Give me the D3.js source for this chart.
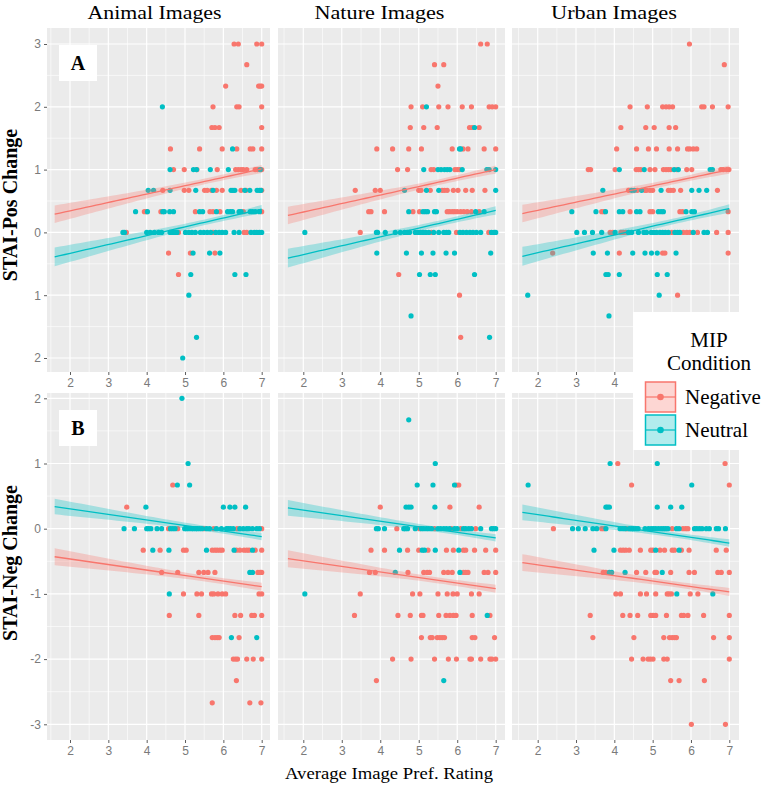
<!DOCTYPE html>
<html><head><meta charset="utf-8">
<script src="https://cdn.jsdelivr.net/npm/d3@7"></script>
<style>body{margin:0;background:#fff}</style>
</head><body><svg id="c" width="764" height="788"></svg>
<script>
// ---------------- DATA ----------------
const facets = ["Animal Images", "Nature Images", "Urban Images"];
const measures = ["STAI-Pos Change", "STAI-Neg Change"];
const panelTags = ["A", "B"];
const conditions = ["Negative", "Neutral"];
const xTicks = [2, 3, 4, 5, 6, 7];
const yTicksPos = [3, 2, 1, 0, -1, -2];
const yTickLabelsPos = ["3", "2", "1", "0", "1", "2"];
const yTicksNeg = [2, 1, 0, -1, -2, -3];
const yTickLabelsNeg = ["2", "1", "0", "-1", "-2", "-3"];
const xTitle = "Average Image Pref. Rating";
const legendTitle = ["MIP", "Condition"];

// rows: [y value, [x values]]
const animalPosNegative = [
  [3, [6.28, 6.39, 6.87, 7.0]], [2.67, [6.61]], [2.33, [6.06, 6.92, 6.96, 7.0]],
  [2, [5.73, 6.35, 6.41, 7.0]], [1.67, [5.70, 5.78, 5.89, 7.0]],
  [1.33, [4.62, 5.38, 5.97, 6.35, 6.70, 6.77, 7.0]],
  [1, [4.70, 4.98, 5.31, 5.84, 6.32, 6.39, 6.46, 6.52, 6.61, 6.83, 6.89, 7.0]],
  [0.67, [4.42, 4.98, 5.10, 5.51, 5.58, 5.69, 5.82, 5.97, 6.46, 6.59, 7.0]],
  [0.33, [3.94, 4.0, 4.37, 5.27, 5.65, 5.73, 5.91, 6.52, 7.0]],
  [0, [3.47, 4.83, 5.73, 6.54, 6.61]], [-0.33, [4.57, 5.14, 5.78]], [-0.67, [4.83]]
];
const animalPosNeutral = [
  [2, [4.41]], [1.33, [6.24]], [1, [4.61, 5.22, 5.30, 5.66, 6.13, 6.96]],
  [0.67, [4.04, 4.18, 4.61, 5.28, 5.73, 6.20, 6.25, 6.30, 6.56, 6.69, 6.88, 6.94, 6.98]],
  [0.33, [3.71, 4.02, 4.42, 4.46, 4.60, 4.70, 5.38, 5.46, 5.82, 6.11, 6.18, 6.24, 6.41, 6.46, 6.70, 6.76, 6.83, 6.94]],
  [0, [3.38, 3.42, 4.0, 4.09, 4.2, 4.31, 4.39, 4.61, 4.66, 4.70, 4.75, 4.79, 5.01, 5.10, 5.18, 5.27, 5.40, 5.49, 5.58, 5.67, 5.80, 5.89, 5.97, 6.06, 6.28, 6.41, 6.72, 6.81, 6.87, 6.94, 7.0]],
  [-0.33, [5.21, 5.64, 5.91]], [-0.67, [5.15, 6.30, 6.59]], [-1, [5.10]], [-1.67, [5.30]], [-2, [4.94]]
];
const naturePosNegative = [
  [3, [6.61, 6.78]], [2.67, [5.41, 5.65]], [2.33, [5.50]],
  [2, [4.80, 5.10, 5.52, 5.76, 6.13, 6.37, 6.83, 6.91, 7.0]],
  [1.67, [4.78, 5.13, 5.48, 6.32, 6.39, 6.57]],
  [1.33, [3.91, 4.32, 4.74, 5.07, 5.87, 6.15, 6.28, 6.70, 7.0]],
  [1, [4.45, 4.71, 5.32, 5.39, 5.94, 6.0, 6.06]],
  [0.67, [3.35, 3.87, 4.0, 5.0, 5.06, 5.30, 5.61, 5.67, 5.74, 5.90, 6.02, 6.22, 6.39, 6.72]],
  [0.33, [3.70, 3.76, 4.11, 4.85, 5.02, 5.74, 5.80, 5.87, 5.93, 6.0, 6.09, 6.17, 6.26, 6.37, 6.57]],
  [0, [3.48, 5.33, 5.98, 6.82]], [-0.67, [4.48]], [-1, [6.06]], [-1.67, [6.09]]
];
const naturePosNeutral = [
  [2, [5.20]], [1.67, [6.45]], [1.33, [6.06, 6.09]],
  [1, [5.13, 5.50, 5.58, 5.67, 5.74, 5.81, 6.13, 6.77, 6.83, 7.0]],
  [0.67, [4.63, 5.20, 5.52, 7.0]],
  [0.33, [4.74, 5.11, 5.17, 5.23, 5.41, 5.46, 6.48, 6.70]],
  [0, [2.04, 3.90, 3.93, 4.13, 4.39, 4.52, 4.63, 4.70, 4.76, 4.91, 4.98, 5.04, 5.11, 5.18, 5.26, 5.39, 5.52, 5.65, 5.72, 5.78, 6.07, 6.15, 6.24, 6.33, 6.41, 6.50, 6.61, 6.89, 6.96, 7.0]],
  [-0.33, [3.91, 4.68, 5.07, 5.37, 5.71, 5.93, 6.87]],
  [-0.67, [5.02, 5.30, 5.43, 6.45]], [-1.33, [4.80]], [-1.67, [6.84]]
];
const urbanPosNegative = [
  [3, [5.96]], [2.67, [6.87]],
  [2, [4.41, 4.86, 5.26, 5.35, 5.43, 5.52, 6.28, 6.34, 6.56, 6.97]],
  [1.67, [4.17, 4.82, 5.04, 5.43, 5.60]],
  [1.33, [4.06, 4.58, 4.89, 5.10, 5.43, 5.65, 5.91, 5.97, 6.06, 6.15]],
  [1, [3.32, 3.38, 4.02, 4.57, 4.63, 4.69, 4.93, 5.06, 5.28, 5.35, 5.41, 5.47, 5.63, 5.89, 6.02, 6.78, 6.84, 6.93, 6.99]],
  [0.67, [4.37, 4.60, 4.80, 4.84, 4.93, 5.0, 5.41, 5.47, 5.54, 5.73, 6.69]],
  [0.33, [3.67, 3.73, 4.41, 4.93, 5.0, 5.71, 5.78, 6.97]],
  [0, [3.89, 3.96, 4.17, 4.23, 4.30, 5.50, 5.80, 5.89, 5.97, 6.17, 6.67, 6.97]],
  [-0.33, [2.39, 4.13, 5.26, 5.32, 6.97]], [-1, [5.65]]
];
const urbanPosNeutral = [
  [1, [4.13, 4.78, 5.56, 5.67, 6.50, 6.56]],
  [0.67, [3.70, 4.45, 4.52, 4.71, 5.22, 6.02, 6.21, 6.41]],
  [0.33, [2.89, 3.52, 3.77, 4.13, 4.22, 4.58, 4.67, 5.15, 5.22, 5.28, 5.87, 6.02, 6.09]],
  [0, [3.02, 3.22, 3.43, 3.67, 4.02, 4.37, 4.45, 4.63, 4.77, 4.84, 4.96, 5.03, 5.10, 5.19, 5.26, 5.33, 5.41, 5.58, 5.65, 5.71, 6.06, 6.34, 6.43]],
  [-0.33, [3.45, 3.82, 4.48, 4.80, 4.97, 5.12, 5.61]],
  [-0.67, [3.78, 3.84, 4.13, 5.12, 5.38]], [-1, [1.74, 5.17]], [-1.33, [3.86]]
];
const animalNegNegative = [
  [0.67, [4.68]], [0.33, [3.48]], [0, [4.57, 4.81, 5.49, 5.75, 6.36, 7.0]],
  [-0.33, [3.91, 4.35, 4.96, 5.03, 5.71, 5.78, 5.84, 5.91, 5.97, 6.34, 6.43, 6.54, 6.61, 6.67, 6.83, 7.0]],
  [-0.67, [4.39, 4.81, 5.36, 5.49, 5.60, 5.78, 6.90, 6.96, 7.0]],
  [-1, [4.96, 5.31, 5.43, 5.69, 5.75, 5.86, 5.97, 6.06, 6.93, 7.0]],
  [-1.33, [4.59, 5.36, 6.30, 6.45, 6.74, 6.81, 7.0]],
  [-1.67, [5.71, 5.78, 5.84, 5.89, 6.41]],
  [-2, [6.26, 6.32, 6.37, 6.61, 6.78, 7.0]], [-2.33, [6.34]], [-2.67, [5.71, 6.69, 6.98]]
];
const animalNegNeutral = [
  [2, [4.92]], [1, [5.08]], [0.67, [4.80, 5.12]],
  [0.33, [3.98, 6.0, 6.17, 6.30, 6.58]],
  [0, [3.41, 3.68, 4.0, 4.05, 4.11, 4.27, 4.39, 4.62, 4.68, 4.74, 4.99, 5.04, 5.10, 5.17, 5.22, 5.28, 5.32, 5.38, 5.44, 5.56, 5.64, 5.82, 5.95, 6.08, 6.13, 6.19, 6.26, 6.43, 6.52, 6.61, 6.67, 6.76, 6.87, 6.94]],
  [-0.33, [4.16, 4.58, 5.56, 6.28, 6.76]], [-0.67, [6.69, 6.76]], [-1, [4.59]], [-1.67, [6.21, 6.87]]
];
const natureNegNegative = [
  [0.67, [5.98, 6.04]], [0.33, [4.0, 5.81, 6.57]],
  [0, [4.43, 5.02, 5.41, 5.85, 6.09, 6.48]],
  [-0.33, [3.76, 4.11, 4.71, 5.0, 5.24, 5.72, 5.90, 6.16, 6.22, 6.45, 6.74, 7.0]],
  [-0.67, [3.72, 3.87, 4.72, 5.13, 5.22, 5.28, 5.65, 5.76, 5.87, 6.16, 6.22, 6.28, 6.70, 6.80, 7.0]],
  [-1, [3.48, 4.84, 5.03, 5.50, 5.74, 5.89, 6.0, 6.37, 6.57]],
  [-1.33, [3.33, 4.46, 4.78, 5.07, 5.11, 5.52, 5.71, 5.81, 5.90, 5.97, 6.39, 6.85]],
  [-1.67, [5.07, 5.30, 5.35, 5.48, 5.55, 5.61, 5.67, 6.39, 6.46, 6.97]],
  [-2, [4.32, 4.80, 5.41, 5.77, 5.98, 6.33, 6.37, 6.61, 6.85, 6.90, 7.0]], [-2.33, [3.90]]
];
const natureNegNeutral = [
  [1.67, [4.74]], [1, [5.43]], [0.67, [4.96, 5.37, 5.93]],
  [0.33, [4.67, 4.74, 4.80, 5.42]],
  [0, [3.90, 3.95, 4.11, 4.61, 4.65, 4.71, 4.91, 5.07, 5.13, 5.20, 5.26, 5.33, 5.50, 5.57, 5.65, 5.72, 5.80, 5.93, 6.0, 6.16, 6.22, 6.30, 6.37, 6.61, 6.89, 6.94, 7.0]],
  [-0.33, [4.50, 5.09, 5.15, 5.43, 6.04]], [-0.67, [4.39, 6.07]], [-1, [2.04]], [-1.33, [6.78]], [-2.33, [5.65]]
];
const urbanNegNegative = [
  [1, [4.09, 6.89]], [0.67, [4.45, 7.0]],
  [0, [2.41, 3.67, 3.73, 4.32, 5.51, 5.79, 5.86, 5.92]],
  [-0.33, [4.16, 4.23, 4.30, 4.39, 4.68, 4.95, 5.01, 5.19, 5.31, 5.51, 5.57, 5.75, 5.95, 6.66, 6.92]],
  [-0.67, [3.71, 3.78, 4.58, 4.82, 5.06, 5.10, 5.47, 5.95, 6.09, 6.70, 6.79, 7.0]],
  [-1, [4.04, 4.16, 4.68, 4.84, 5.08, 5.38, 5.43, 5.49, 5.98, 6.18]],
  [-1.33, [3.37, 4.22, 4.41, 4.61, 4.95, 5.01, 5.08, 5.36, 5.75, 5.81, 5.92, 6.33, 7.0]],
  [-1.67, [3.44, 4.51, 5.29, 5.44, 5.51, 5.57, 5.62, 6.59, 7.0]],
  [-2, [4.45, 4.75, 4.88, 4.94, 5.01, 5.29, 5.38, 7.0]],
  [-2.33, [5.47, 5.69, 6.35]], [-3, [6.01, 6.90]]
];
const urbanNegNeutral = [
  [1, [3.89, 5.12]], [0.67, [1.75, 6.02]], [0.33, [3.78, 3.82, 3.87, 5.12, 5.47, 5.76]],
  [0, [2.91, 3.06, 3.24, 3.44, 3.54, 3.78, 4.15, 4.22, 4.28, 4.39, 4.45, 4.50, 4.56, 4.62, 4.80, 4.89, 4.96, 5.02, 5.08, 5.15, 5.22, 5.28, 5.34, 5.40, 5.62, 5.69, 6.09, 6.15, 6.22, 6.29, 6.40, 6.48, 6.66, 6.72, 6.90]],
  [-0.33, [3.47, 3.99, 5.08, 5.69]], [-0.67, [3.87, 3.93, 4.28, 5.25]], [-1, [5.63, 6.57]]
];

// fitted lines: [y at x start, y at x end, CI half-width at start, minimum CI half-width]
const fitXRange = [1.6, 7.0];
const fitPosNegative = [[0.29, 1.01, 0.14, 0.045], [0.27, 1.00, 0.14, 0.045], [0.30, 1.00, 0.14, 0.045]];
const fitPosNeutral  = [[-0.39, 0.37, 0.15, 0.045], [-0.41, 0.35, 0.15, 0.045], [-0.38, 0.38, 0.15, 0.045]];
const fitNegNegative = [[-0.43, -0.89, 0.13, 0.045], [-0.46, -0.92, 0.13, 0.045], [-0.52, -0.97, 0.13, 0.045]];
const fitNegNeutral  = [[0.34, -0.12, 0.12, 0.04], [0.32, -0.14, 0.12, 0.04], [0.25, -0.22, 0.12, 0.04]];

// ---------------- LAYOUT ----------------
const colors = {Negative: "#F8766D", Neutral: "#00BFC4"};
const cols = [
  {left: 47, right: 270, x2: 70, x7: 261.7},
  {left: 278, right: 505, x2: 303.3, x7: 495.7},
  {left: 512, right: 739, x2: 537.7, x7: 729.3}
];
const rows = [
  {top: 28, bottom: 372, yA: 3, pA: 44, yB: -2, pB: 358, ticks: yTicksPos, labels: yTickLabelsPos},
  {top: 393, bottom: 740, yA: 2, pA: 398.3, yB: -3, pB: 724.3, ticks: yTicksNeg, labels: yTickLabelsNeg}
];
const legendBox = {x: 633, y: 312, w: 131, h: 138};
const series = [
  [[animalPosNegative, animalPosNeutral], [naturePosNegative, naturePosNeutral], [urbanPosNegative, urbanPosNeutral]],
  [[animalNegNegative, animalNegNeutral], [natureNegNegative, natureNegNeutral], [urbanNegNegative, urbanNegNeutral]]
];
const fits = [[fitPosNegative, fitPosNeutral], [fitNegNegative, fitNegNeutral]];

const svg = d3.select("#c");
const tickFont = "'Liberation Sans', Arial, sans-serif";
const serif = "'Liberation Serif', 'Times New Roman', serif";

rows.forEach((r, ri) => {
  cols.forEach((c, ci) => {
    const x = d3.scaleLinear().domain([2, 7]).range([c.x2, c.x7]);
    const y = d3.scaleLinear().domain([r.yB, r.yA]).range([r.pB, r.pA]);
    const g = svg.append("g");
    const clipId = `clip${ri}${ci}`;
    g.append("clipPath").attr("id", clipId).append("rect")
      .attr("x", c.left).attr("y", r.top).attr("width", c.right - c.left).attr("height", r.bottom - r.top);
    g.append("rect").attr("x", c.left).attr("y", r.top).attr("width", c.right - c.left)
      .attr("height", r.bottom - r.top).attr("fill", "#EBEBEB");
    const xd = [x.invert(c.left), x.invert(c.right)];
    const yd = [y.invert(r.bottom), y.invert(r.top)];
    const minorX = d3.range(1.5, 8, 1).filter(v => v > xd[0] && v < xd[1]);
    const minorY = d3.range(-3.5, 4, 1).filter(v => v > yd[0] && v < yd[1]);
    g.selectAll(null).data(minorX).join("line").attr("x1", d => x(d)).attr("x2", d => x(d))
      .attr("y1", r.top).attr("y2", r.bottom).attr("stroke", "#fff").attr("stroke-width", 0.6);
    g.selectAll(null).data(minorY).join("line").attr("y1", d => y(d)).attr("y2", d => y(d))
      .attr("x1", c.left).attr("x2", c.right).attr("stroke", "#fff").attr("stroke-width", 0.6);
    g.selectAll(null).data(xTicks).join("line").attr("x1", d => x(d)).attr("x2", d => x(d))
      .attr("y1", r.top).attr("y2", r.bottom).attr("stroke", "#fff").attr("stroke-width", 1.2);
    g.selectAll(null).data(r.ticks).join("line").attr("y1", d => y(d)).attr("y2", d => y(d))
      .attr("x1", c.left).attr("x2", c.right).attr("stroke", "#fff").attr("stroke-width", 1.2);

    const inner = g.append("g").attr("clip-path", `url(#${clipId})`);
    // points
    conditions.forEach((cond, k) => {
      const pts = series[ri][ci][k].flatMap(([yv, xs]) => xs.map(xv => [xv, yv]));
      inner.selectAll(null).data(pts).join("circle")
        .attr("cx", d => x(d[0])).attr("cy", d => y(d[1])).attr("r", 2.6)
        .attr("fill", colors[cond]);
    });
    // fitted lines + bands
    conditions.forEach((cond, k) => {
      const [y0, y1, wL, wMin] = fits[ri][k][ci];
      const [x0, x1] = fitXRange;
      const xc = 5.6;
      const kk = (wL * wL - wMin * wMin) / ((x0 - xc) * (x0 - xc));
      const xs = d3.range(0, 41).map(i => x0 + (x1 - x0) * i / 40);
      const pts = xs.map(xv => {
        const fy = y0 + (y1 - y0) * (xv - x0) / (x1 - x0);
        const w = Math.sqrt(wMin * wMin + kk * (xv - xc) * (xv - xc));
        return {x: xv, y: fy, lo: fy - w, hi: fy + w};
      });
      inner.append("path").datum(pts)
        .attr("d", d3.area().x(d => x(d.x)).y0(d => y(d.lo)).y1(d => y(d.hi)))
        .attr("fill", colors[cond]).attr("fill-opacity", 0.3);
      inner.append("path").datum(pts)
        .attr("d", d3.line().x(d => x(d.x)).y(d => y(d.y)))
        .attr("fill", "none").attr("stroke", colors[cond]).attr("stroke-width", 1.3);
    });

    // x axis (ticks hidden under the legend box are not drawn)
    const visibleTicks = xTicks.filter(v => !(r.bottom > legendBox.y && r.bottom < legendBox.y + legendBox.h && x(v) > legendBox.x - 4));
    const xa = g.append("g").attr("transform", `translate(0,${r.bottom})`)
      .call(d3.axisBottom(x).tickValues(visibleTicks).tickSize(3).tickPadding(3).tickFormat(d3.format("d")));
    xa.select(".domain").remove();
    xa.selectAll("line").attr("stroke", "#333").attr("stroke-width", 0.8);
    xa.selectAll("text").attr("fill", "#7a7a7a").style("font-family", tickFont).style("font-size", "12px");
    // y axis
    if (ci === 0) {
      const ya = g.append("g").attr("transform", `translate(${c.left},0)`)
        .call(d3.axisLeft(y).tickValues(r.ticks).tickSize(3).tickPadding(3).tickFormat((d, i) => r.labels[i]));
      ya.select(".domain").remove();
      ya.selectAll("line").attr("stroke", "#333").attr("stroke-width", 0.8);
      ya.selectAll("text").attr("fill", "#7a7a7a").style("font-family", tickFont).style("font-size", "12px");
    }
  });
});

// facet titles
const titleCenters = [154.5, 379.5, 614];
facets.forEach((f, i) => {
  svg.append("text").attr("x", titleCenters[i]).attr("y", 18.5).attr("text-anchor", "middle")
    .attr("font-family", serif).attr("font-size", 19).attr("textLength", 134 - i * 4)
    .attr("lengthAdjust", "spacingAndGlyphs").text(f);
});
// y titles
const yTitleCenters = [205, 563];
measures.forEach((m, i) => {
  svg.append("text").attr("transform", `translate(17,${yTitleCenters[i]}) rotate(-90)`)
    .attr("text-anchor", "middle").attr("font-family", serif).attr("font-weight", "bold")
    .attr("font-size", 20).text(m);
});
// x title
svg.append("text").attr("x", 389).attr("y", 779).attr("text-anchor", "middle")
  .attr("font-family", serif).attr("font-size", 17).attr("textLength", 208)
  .attr("lengthAdjust", "spacingAndGlyphs").text(xTitle);

// panel tags
const tagTops = [45, 410];
panelTags.forEach((t, i) => {
  svg.append("rect").attr("x", 59).attr("y", tagTops[i]).attr("width", 38).attr("height", 36).attr("fill", "#fff");
  svg.append("text").attr("x", 78).attr("y", tagTops[i] + 25).attr("text-anchor", "middle")
    .attr("font-family", serif).attr("font-weight", "bold").attr("font-size", 20).text(t);
});

// legend
const lg = svg.append("g");
lg.append("rect").attr("x", legendBox.x).attr("y", legendBox.y).attr("width", legendBox.w)
  .attr("height", legendBox.h).attr("fill", "#fff");
legendTitle.forEach((t, i) => {
  lg.append("text").attr("x", 709).attr("y", 347 + i * 23).attr("text-anchor", "middle")
    .attr("font-family", serif).attr("font-size", 21).text(t);
});
conditions.forEach((cond, i) => {
  const ky = 382 + i * 33;
  lg.append("rect").attr("x", 645.5).attr("y", ky).attr("width", 30).attr("height", 30)
    .attr("fill", colors[cond]).attr("fill-opacity", 0.3).attr("stroke", colors[cond]).attr("stroke-width", 1.5);
  lg.append("line").attr("x1", 645.5).attr("x2", 675.5).attr("y1", ky + 15).attr("y2", ky + 15)
    .attr("stroke", colors[cond]).attr("stroke-width", 1.2);
  lg.append("circle").attr("cx", 660.5).attr("cy", ky + 15).attr("r", 3.3).attr("fill", colors[cond]);
  lg.append("text").attr("x", 685).attr("y", ky + 22).attr("font-family", serif).attr("font-size", 21)
    .text(cond);
});
</script></body></html>
